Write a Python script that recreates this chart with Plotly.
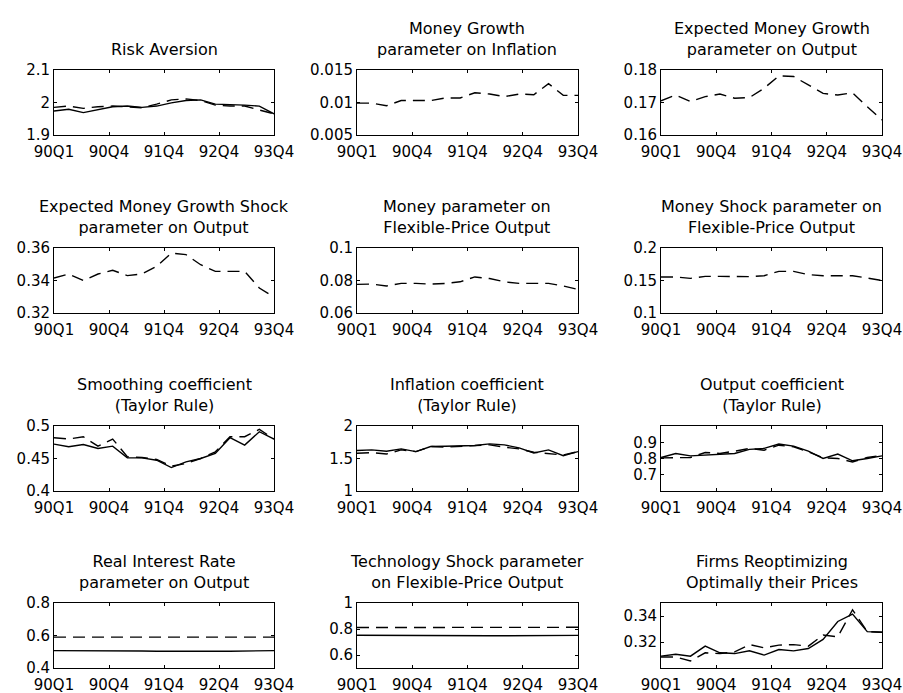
import plotly.graph_objects as go

# ---------------- data ----------------
quarters = list(range(16))  # 90Q1 .. 93Q4
tick_pos = [0, 3.75, 7.5, 11.25, 15]
tick_labels = ["90Q1", "90Q4", "91Q4", "92Q4", "93Q4"]

titles = [
    "Risk Aversion",
    "Money Growth<br>parameter on Inflation",
    "Expected Money Growth<br>parameter on Output",
    "Expected Money Growth Shock<br>parameter on Output",
    "Money parameter on<br>Flexible-Price Output",
    "Money Shock parameter on<br>Flexible-Price Output",
    "Smoothing coefficient<br>(Taylor Rule)",
    "Inflation coefficient<br>(Taylor Rule)",
    "Output coefficient<br>(Taylor Rule)",
    "Real Interest Rate<br>parameter on Output",
    "Technology Shock parameter<br>on Flexible-Price Output",
    "Firms Reoptimizing<br>Optimally their Prices",
]

risk_solid = [1.974, 1.979, 1.969, 1.979, 1.987, 1.989, 1.985, 1.989, 1.999, 2.006, 2.008, 1.995, 1.994, 1.992, 1.989, 1.965]
risk_dash = [1.985, 1.989, 1.982, 1.987, 1.989, 1.987, 1.984, 1.995, 2.008, 2.011, 2.006, 1.992, 1.989, 1.989, 1.977, 1.965]

mg_infl_dash = [0.0099, 0.0099, 0.0095, 0.0103, 0.0103, 0.0103, 0.0107, 0.0107, 0.0115, 0.0113, 0.0109, 0.0113, 0.0112, 0.0129, 0.0111, 0.0111]

emg_out_dash = [0.1705, 0.1723, 0.1703, 0.1718, 0.1726, 0.1713, 0.1715, 0.1744, 0.1782, 0.1780, 0.1754, 0.1728, 0.1723, 0.1730, 0.1687, 0.1646]

emgs_out_dash = [0.3415, 0.3440, 0.3400, 0.3440, 0.3463, 0.3430, 0.3440, 0.3487, 0.3569, 0.3559, 0.3497, 0.3456, 0.3456, 0.3456, 0.3354, 0.3298]

money_flex_dash = [0.0776, 0.0778, 0.0766, 0.0782, 0.0782, 0.0778, 0.0782, 0.0792, 0.0822, 0.0812, 0.0792, 0.0782, 0.0782, 0.0782, 0.0766, 0.0745]

mshock_flex_dash = [0.1554, 0.1554, 0.1533, 0.1564, 0.1564, 0.1564, 0.1559, 0.1574, 0.1641, 0.1640, 0.1590, 0.1574, 0.1574, 0.1574, 0.1538, 0.1500]

smooth_solid = [0.4722, 0.4680, 0.4716, 0.4655, 0.4690, 0.4510, 0.4510, 0.4474, 0.4360, 0.4448, 0.4500, 0.4577, 0.4820, 0.4706, 0.4912, 0.4800]
smooth_dash = [0.4820, 0.4800, 0.4835, 0.4690, 0.4800, 0.4526, 0.4516, 0.4485, 0.4381, 0.4423, 0.4500, 0.4603, 0.4835, 0.4835, 0.4948, 0.4800]

infl_solid = [1.622, 1.632, 1.611, 1.648, 1.606, 1.684, 1.689, 1.700, 1.700, 1.725, 1.710, 1.663, 1.585, 1.632, 1.544, 1.606]
infl_dash = [1.580, 1.590, 1.570, 1.632, 1.606, 1.684, 1.674, 1.684, 1.689, 1.710, 1.674, 1.648, 1.596, 1.570, 1.554, 1.606]

outc_solid = [0.806, 0.831, 0.816, 0.820, 0.825, 0.831, 0.856, 0.862, 0.889, 0.876, 0.845, 0.800, 0.827, 0.786, 0.800, 0.816]
outc_dash = [0.804, 0.806, 0.806, 0.837, 0.831, 0.845, 0.862, 0.851, 0.882, 0.872, 0.841, 0.804, 0.800, 0.779, 0.806, 0.820]

rir_solid = [0.507, 0.507, 0.508, 0.507, 0.506, 0.506, 0.505, 0.503, 0.502, 0.502, 0.502, 0.503, 0.503, 0.504, 0.505, 0.507]
rir_dash = [0.590, 0.590, 0.591, 0.590, 0.590, 0.590, 0.590, 0.589, 0.589, 0.589, 0.589, 0.589, 0.590, 0.590, 0.590, 0.590]

tech_solid = [0.752, 0.751, 0.750, 0.749, 0.749, 0.749, 0.750, 0.749, 0.748, 0.748, 0.748, 0.749, 0.749, 0.748, 0.749, 0.751]
tech_dash = [0.812, 0.813, 0.815, 0.813, 0.812, 0.812, 0.812, 0.812, 0.812, 0.812, 0.812, 0.812, 0.812, 0.812, 0.812, 0.813]

firms_solid = [0.3091, 0.3106, 0.3091, 0.3168, 0.3117, 0.3111, 0.3132, 0.3099, 0.3142, 0.3132, 0.3150, 0.3220, 0.3358, 0.3415, 0.3280, 0.3275]
firms_dash = [0.3085, 0.3085, 0.3054, 0.3117, 0.3111, 0.3124, 0.3180, 0.3155, 0.3176, 0.3180, 0.3168, 0.3254, 0.3240, 0.3448, 0.3280, 0.3275]

solid_series = [risk_solid, None, None, None, None, None, smooth_solid, infl_solid, outc_solid, rir_solid, tech_solid, firms_solid]
dash_series = [risk_dash, mg_infl_dash, emg_out_dash, emgs_out_dash, money_flex_dash, mshock_flex_dash,
               smooth_dash, infl_dash, outc_dash, rir_dash, tech_dash, firms_dash]

y_ranges = [[1.9, 2.1], [0.005, 0.015], [0.16, 0.18], [0.32, 0.36], [0.06, 0.1], [0.1, 0.2],
            [0.4, 0.5], [1, 2], [0.6, 1.0], [0.4, 0.8], [0.5, 1.0], [0.30, 0.35]]
y_ticks = [[1.9, 2, 2.1], [0.005, 0.01, 0.015], [0.16, 0.17, 0.18], [0.32, 0.34, 0.36], [0.06, 0.08, 0.1],
           [0.1, 0.15, 0.2], [0.4, 0.45, 0.5], [1, 1.5, 2], [0.7, 0.8, 0.9], [0.4, 0.6, 0.8], [0.6, 0.8, 1],
           [0.32, 0.34]]
y_ticktext = [["1.9", "2", "2.1"], ["0.005", "0.01", "0.015"], ["0.16", "0.17", "0.18"], ["0.32", "0.34", "0.36"],
              ["0.06", "0.08", "0.1"], ["0.1", "0.15", "0.2"], ["0.4", "0.45", "0.5"], ["1", "1.5", "2"],
              ["0.7", "0.8", "0.9"], ["0.4", "0.6", "0.8"], ["0.6", "0.8", "1"], ["0.32", "0.34"]]

# ---------------- layout ----------------
W, H = 903, 693
col_px = [(54, 274), (357, 578), (661, 882)]
row_px = [(70, 135), (248, 313), (426, 491), (603, 668)]
FONT = "DejaVu Sans"
TICK_SIZE = 15

fig = go.Figure()
layout = dict(
    template="none",
    width=W, height=H, margin=dict(l=0, r=0, t=0, b=0, pad=0),
    paper_bgcolor="white", plot_bgcolor="white", showlegend=False,
    font=dict(family=FONT, size=TICK_SIZE, color="black"),
    annotations=[],
)

for i in range(12):
    r, c = divmod(i, 3)
    n = i + 1
    xa = "x" if n == 1 else f"x{n}"
    ya = "y" if n == 1 else f"y{n}"
    x0, x1 = col_px[c]
    y0, y1 = row_px[r]
    axcommon = dict(showline=True, mirror="ticks", linecolor="black", linewidth=1,
                    ticks="inside", ticklen=3, tickcolor="black", tickwidth=1,
                    showgrid=False, zeroline=False, automargin=False,
                    tickfont=dict(family=FONT, size=TICK_SIZE, color="black"))
    layout["xaxis" if n == 1 else f"xaxis{n}"] = dict(
        domain=[x0 / W, x1 / W], anchor=ya, range=[0, 15], ticklabelstandoff=3,
        tickmode="array", tickvals=tick_pos, ticktext=tick_labels, **axcommon)
    layout["yaxis" if n == 1 else f"yaxis{n}"] = dict(
        domain=[1 - y1 / H, 1 - y0 / H], anchor=xa, range=y_ranges[i],
        tickmode="array", tickvals=y_ticks[i], ticktext=y_ticktext[i], **axcommon)

    if solid_series[i] is not None:
        fig.add_trace(go.Scatter(x=quarters, y=solid_series[i], mode="lines", xaxis=xa, yaxis=ya,
                                 line=dict(color="black", width=1.4)))
    fig.add_trace(go.Scatter(x=quarters, y=dash_series[i], mode="lines", xaxis=xa, yaxis=ya,
                             line=dict(color="black", width=1.4, dash="12px,7px")))

    layout["annotations"].append(dict(
        text=titles[i], xref="paper", yref="paper",
        x=(x0 + x1) / 2 / W, y=1 - y0 / H, xanchor="center", yanchor="bottom",
        yshift=9, showarrow=False, align="center",
        font=dict(family=FONT, size=16, color="black")))

fig.update_layout(**layout)
fig.write_html("out.html", config={"displayModeBar": False, "staticPlot": True},
               post_script="document.body.style.margin='0';document.body.style.padding='0';")
